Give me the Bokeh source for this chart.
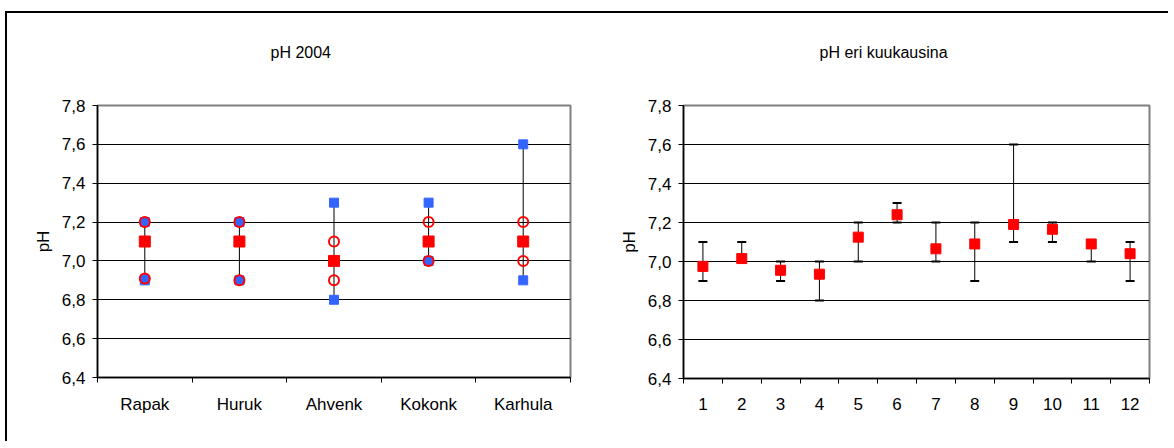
from bokeh.plotting import figure
from bokeh.layouts import row
from bokeh.models import Range1d, FixedTicker, Title, Whisker, TeeHead, ColumnDataSource
from bokeh.embed import file_html
from bokeh.resources import INLINE

# ---------------- data ----------------
sites = ["Rapak", "Huruk", "Ahvenk", "Kokonk", "Karhula"]
site_max = [7.2, 7.2, 7.3, 7.3, 7.6]
site_min = [6.9, 6.9, 6.8, 7.0, 6.9]
site_median = [7.1, 7.1, 7.0, 7.1, 7.1]
site_q75 = [7.2, 7.2, 7.1, 7.2, 7.2]
site_q25 = [6.91, 6.9, 6.9, 7.0, 7.0]

months = ["1", "2", "3", "4", "5", "6", "7", "8", "9", "10", "11", "12"]
month_mean = [6.975, 7.015, 6.955, 6.935, 7.125, 7.24, 7.065, 7.09, 7.19, 7.165, 7.09, 7.04]
month_min = [6.9, 7.0, 6.9, 6.8, 7.0, 7.2, 7.0, 6.9, 7.1, 7.1, 7.0, 6.9]
month_max = [7.1, 7.1, 7.0, 7.0, 7.2, 7.3, 7.2, 7.2, 7.6, 7.2, 7.1, 7.1]

y_ticks = [6.4, 6.6, 6.8, 7.0, 7.2, 7.4, 7.6, 7.8]
y_tick_labels = ["6,4", "6,6", "6,8", "7,0", "7,2", "7,4", "7,6", "7,8"]

title_left = "pH  2004"
title_right = "pH eri kuukausina"
y_label = "pH"

FONT = "Liberation Sans"
RED = "#FF0000"
BLUE = "#3366FF"


def style(p, n, labels, title, t_offset, x_standoff):
    p.background_fill_color = "white"
    p.border_fill_color = "white"
    p.outline_line_color = "#808080"
    p.outline_line_width = 2
    p.title.text = ""
    # title raised by a trailing blank line
    p.add_layout(Title(text=title + "\n ", align="left", offset=t_offset, standoff=56,
                       text_font=FONT, text_font_size="16px", text_font_style="normal",
                       text_color="black"), "above")
    # x axis
    xa = p.xaxis[0]
    xa.ticker = FixedTicker(ticks=list(range(1, n + 1)),
                            minor_ticks=[i + 0.5 for i in range(0, n + 1)])
    xa.major_label_overrides = {i + 1: lab for i, lab in enumerate(labels)}
    xa.major_tick_out = 0
    xa.major_tick_in = 0
    xa.major_tick_line_color = None
    xa.minor_tick_out = 5
    xa.minor_tick_in = 0
    xa.minor_tick_line_color = "black"
    xa.minor_tick_line_width = 1
    xa.axis_line_color = "black"
    xa.axis_line_width = 1.5
    xa.major_label_standoff = x_standoff
    xa.major_label_text_font = FONT
    xa.major_label_text_font_size = "17px"
    xa.major_label_text_color = "black"
    # y axis
    ya = p.yaxis[0]
    ya.ticker = FixedTicker(ticks=y_ticks, minor_ticks=[])
    ya.major_label_overrides = {t: l for t, l in zip(y_ticks, y_tick_labels)}
    ya.major_tick_out = 5
    ya.major_tick_in = 0
    ya.major_tick_line_color = "black"
    ya.minor_tick_line_color = None
    ya.axis_line_color = "black"
    ya.axis_line_width = 1.5
    ya.major_label_standoff = 7
    ya.major_label_text_font = FONT
    ya.major_label_text_font_size = "17px"
    ya.major_label_text_color = "black"
    ya.axis_label = y_label
    ya.axis_label_text_font = FONT
    ya.axis_label_text_font_size = "17px"
    ya.axis_label_text_font_style = "normal"
    ya.axis_label_text_color = "black"
    ya.axis_label_standoff = 6
    # grid
    p.xgrid.grid_line_color = None
    p.ygrid.ticker = FixedTicker(ticks=y_ticks[1:-1])
    p.ygrid.grid_line_color = "black"
    p.ygrid.grid_line_width = 1


# ---------------- left chart ----------------
x_sites = list(range(1, len(sites) + 1))
p1 = figure(frame_width=473, frame_height=272,
            min_border_left=90, min_border_right=43, min_border_top=92, min_border_bottom=64,
            x_range=Range1d(0.5, len(sites) + 0.5), y_range=Range1d(6.4, 7.8),
            output_backend="svg", toolbar_location=None)
style(p1, len(sites), sites, title_left, 173, 12)

p1.segment(x0=x_sites, y0=site_min, x1=x_sites, y1=site_max, line_color="black", line_width=1)
p1.scatter(x=x_sites, y=site_max, marker="square", size=9, fill_color=BLUE, line_color=BLUE)
p1.scatter(x=x_sites, y=site_min, marker="square", size=9, fill_color=BLUE, line_color=BLUE)
p1.scatter(x=x_sites, y=site_median, marker="square", size=11, fill_color=RED, line_color=RED)


def coincide(q, lo, hi):
    return 1.0 if (abs(q - lo) < 0.02 or abs(q - hi) < 0.02) else 0.0


for q in (site_q75, site_q25):
    alphas = [coincide(a, b, c) for a, b, c in zip(q, site_min, site_max)]
    src = ColumnDataSource(dict(x=x_sites, y=q, a=alphas))
    p1.scatter(x="x", y="y", source=src, marker="circle", size=10,
               fill_color=BLUE, fill_alpha="a", line_color=RED, line_width=2)

# ---------------- right chart ----------------
x_months = list(range(1, len(months) + 1))
p2 = figure(frame_width=466, frame_height=273,
            min_border_left=70, min_border_right=19, min_border_top=92, min_border_bottom=63,
            x_range=Range1d(0.5, len(months) + 0.5), y_range=Range1d(6.4, 7.8),
            output_backend="svg", toolbar_location=None)
style(p2, len(months), months, title_right, 136, 14)

src2 = ColumnDataSource(dict(x=x_months, lo=month_min, hi=month_max, m=month_mean))
w = Whisker(base="x", lower="lo", upper="hi", source=src2, dimension="height",
            line_color="black", line_width=1,
            lower_head=TeeHead(size=9, line_color="black", line_width=2),
            upper_head=TeeHead(size=9, line_color="black", line_width=2))
p2.add_layout(w)
p2.scatter(x="x", y="m", source=src2, marker="square", size=10, fill_color=RED, line_color=RED)

layout = row(p1, p2, margin=(11, 0, 0, 5),
             styles={"border-top": "2px solid black", "border-left": "2px solid black"})

open("out.html", "w").write(file_html(layout, INLINE))
